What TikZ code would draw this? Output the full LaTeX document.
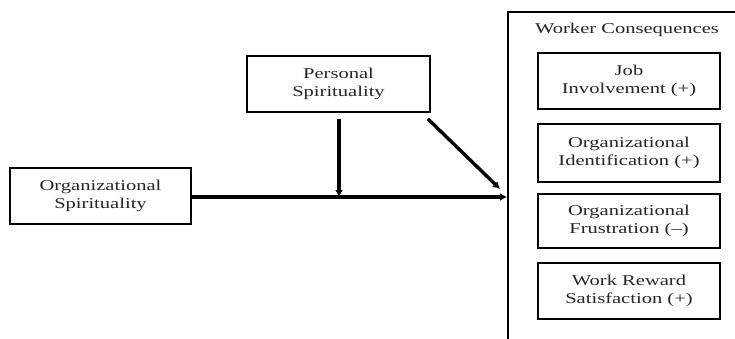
\documentclass[tikz,border=0pt]{standalone}
\usepackage{fontspec}
\setmainfont{Liberation Serif}[FakeStretch=1.37]
\usetikzlibrary{arrows.meta,calc}
\begin{document}
\begin{tikzpicture}[x=1pt,y=-1pt,
  box/.style={draw=black,line width=1.6pt,rectangle,minimum width=182pt,minimum height=56pt,
    align=center,inner sep=0pt,font=\fontsize{15}{18}\selectfont,text=black!85},
  conn/.style={line width=3.4pt,-{Latex[length=7pt,width=8pt]}},
  lbl/.style={font=\fontsize{15}{18}\selectfont,text=black!85,inner sep=0pt}]
\useasboundingbox (0,0) rectangle (735,339);
\fill[white] (0,0) rectangle (735,339);
\begin{scope}
\clip (0,0) rectangle (735,339);
\draw[line width=1.6pt] (508,345) -- (508,12) -- (745,12);
\end{scope}
\node[lbl] (wc) at (627,30) {Worker Consequences};
\node[box,minimum width=181pt] (org) at (100.5,196) {Organizational\\Spirituality};
\node[box,minimum width=183pt] (pers) at (338.5,84) {Personal\\Spirituality};
\node[box] (job) at (629,81) {Job\\Involvement (+)};
\node[box,minimum height=58pt] (oid) at (629,153) {Organizational\\Identification (+)};
\node[box,minimum height=54pt] (ofr) at (629,221) {Organizational\\Frustration (--)};
\node[box] (wrs) at (629,291) {Work Reward\\Satisfaction (+)};
\coordinate (wcl) at (507,197);
\coordinate (hit) at (500,189);
\coordinate (mid) at (339,197);
\draw[conn] (org.east |- wcl) -- (wcl);
\draw[conn] ([yshift=-6pt]pers.south -| mid) -- (mid);
\draw[conn] ([shift={(-3pt,-6pt)}]pers.south east) -- (hit);
\end{tikzpicture}
\end{document}
